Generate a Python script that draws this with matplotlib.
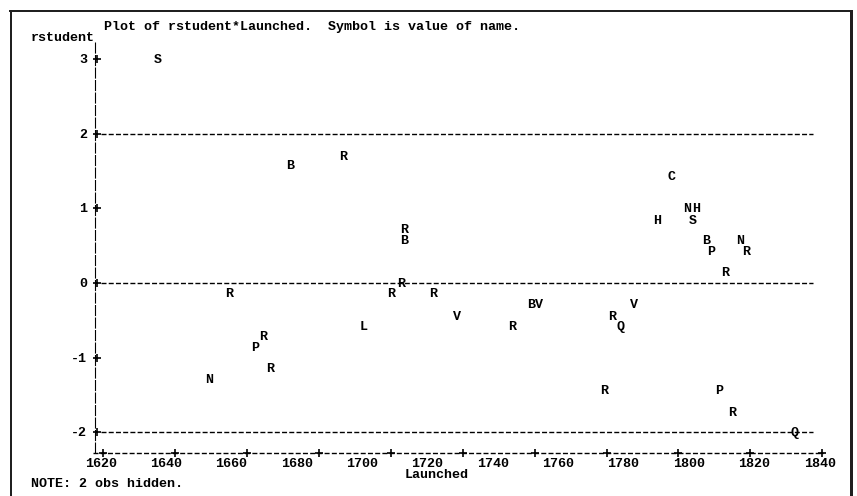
import numpy as np
import matplotlib
matplotlib.use('Agg')
import matplotlib.pyplot as plt
from matplotlib.lines import Line2D
from matplotlib.transforms import offset_copy

plt.rcParams['lines.scale_dashes'] = False

# Symbol (name), Launched year and studentized residual
names    = ['S', 'B', 'R', 'R', 'B', 'C', 'N', 'H', 'H', 'S',
            'B', 'N', 'P', 'R', 'R', 'R', 'R', 'R', 'R', 'L',
            'V', 'B', 'V', 'R', 'R', 'Q', 'V', 'R', 'P', 'R',
            'N', 'R', 'P', 'R', 'Q']
launched = [1637.5, 1677.9, 1694.1, 1712.8, 1712.8, 1794.7, 1799.6, 1802.2, 1790.4, 1801.1,
            1805.2, 1815.8, 1806.7, 1817.5, 1811.0, 1711.9, 1659.3, 1708.8, 1721.6, 1700.4,
            1729.1, 1751.7, 1754.2, 1745.9, 1776.5, 1779.1, 1783.1, 1669.8, 1667.4, 1671.8,
            1653.1, 1774.1, 1809.3, 1813.1, 1832.2]
rstudent = [3.00, 1.58, 1.70, 0.72, 0.58, 1.43, 1.00, 1.00, 0.845, 0.845,
            0.576, 0.576, 0.43, 0.43, 0.143, 0.00, -0.14, -0.14, -0.14, -0.57,
            -0.44, -0.28, -0.28, -0.58, -0.44, -0.58, -0.28, -0.71, -0.86, -1.14,
            -1.29, -1.43, -1.43, -1.73, -2.00]

x_labels  = [1620, 1640, 1660, 1680, 1700, 1720, 1740, 1760, 1780, 1800, 1820, 1840]
y_labels  = [3, 2, 1, 0, -1, -2]
ref_lines = [2, 0, -2]

title = 'Plot of rstudent*Launched.  Symbol is value of name.'
note  = 'NOTE: 2 obs hidden.'

font = dict(family='Liberation Mono', fontweight='bold', fontsize=9.6, color='black')

W, H = 857, 496
fig = plt.figure(figsize=(W / 100, H / 100), dpi=100)
ax = fig.add_axes([0, 0, 1, 1])
ax.set_xlim(1589.19, 1851.43)
ax.set_ylim(-2.855, 3.794)
ax.axis('off')

def px(x, y):
    # pixel (from top-left) -> figure fraction
    return x / W, 1 - y / H

# frame around the listing
for (x0, y0, x1, y1, lw) in [(10.5, 11, 10.5, 496, 2.0), (10, 11, 852, 11, 2.0),
                             (851, 11, 851, 496, 3.0)]:
    a, b = px(x0, y0)
    c, d = px(x1, y1)
    fig.add_artist(Line2D([a, c], [b, d], transform=fig.transFigure,
                          color='#202020', lw=lw * 0.72))

# vertical axis made of '|' characters
y_axis_x = 1618.2
ax.plot([y_axis_x, y_axis_x], [3.23, -2.28], color='black', lw=0.8,
        linestyle=(0, (8.0, 1.0)))
ax.plot([1619.0] * len(y_labels), y_labels, '+', color='black', ms=5.5, mew=1.2)

# horizontal axis made of '-' and '+'
x_axis_y = -2.283
ax.plot([1617.7, 1841.0], [x_axis_y, x_axis_y], color='black', lw=1.0,
        linestyle=(0, (3.6, 1.6)))
ax.plot(np.linspace(x_labels[0], x_labels[-1], 11) + 0.8, [x_axis_y] * 11, '+',
        color='black', ms=5.5, mew=1.2)

# reference lines
ax.hlines(ref_lines, 1620.0, 1838.0, color='black', lw=1.0,
          linestyle=(0, (3.6, 1.6)))

# plotting symbols
sym = offset_copy(ax.transData, fig=fig, y=-4, units='dots')
for n, xv, yv in zip(names, launched, rstudent):
    ax.text(xv, yv, n, ha='center', va='baseline', transform=sym, **font)

# y tick labels
for v in y_labels:
    ax.text(87 / W, v, str(v), ha='right', va='baseline',
            transform=offset_copy(ax.get_yaxis_transform(), fig=fig, y=-4, units='dots'),
            **font)

# x tick labels
for v in x_labels:
    ax.text(v, 1 - 464 / H, str(v), ha='center', va='center',
            transform=ax.get_xaxis_transform(), **font)
ax.text(*px(436.7, 475), 'Launched', ha='center', va='center',
        transform=ax.transAxes, **font)

ax.text(*px(104, 27.3), title, ha='left', va='center', transform=ax.transAxes, **font)
ax.text(*px(30.7, 37.7), 'rstudent', ha='left', va='center', transform=ax.transAxes, **font)
ax.text(*px(30.7, 484), note, ha='left', va='center', transform=ax.transAxes, **font)

fig.savefig('out.png', dpi=100)
